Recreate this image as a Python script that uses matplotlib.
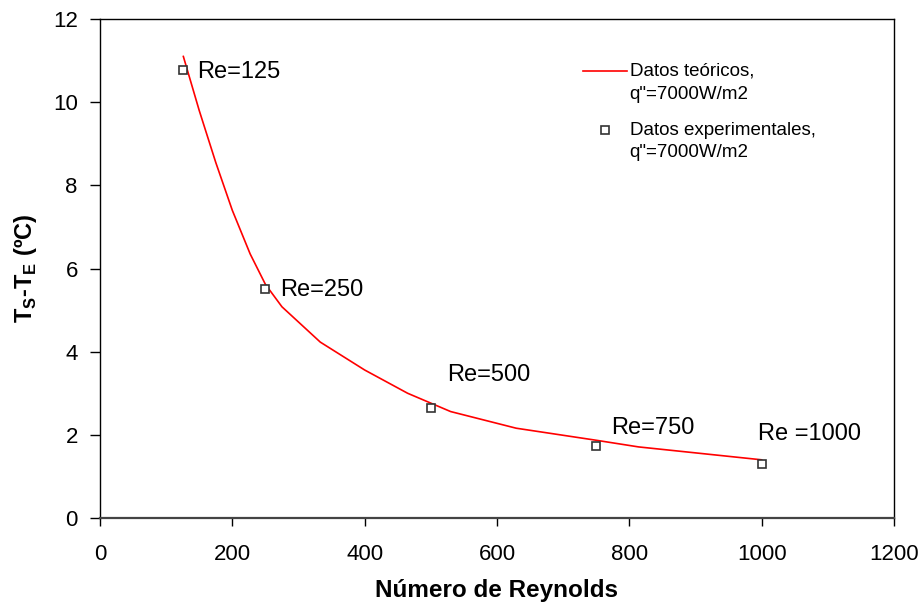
import matplotlib
matplotlib.use('Agg')
import matplotlib.pyplot as plt
import numpy as np
from matplotlib.legend_handler import HandlerLine2D

plt.rcParams['font.family'] = ['Liberation Sans', 'DejaVu Sans']
plt.rcParams['mathtext.fontset'] = 'custom'
plt.rcParams['mathtext.rm'] = 'Liberation Sans:bold'

# Datos teóricos (curva)
re_teo = [126, 150, 175, 200, 227, 250, 275, 333, 400, 465, 530, 629, 750, 814, 1000]
dt_teo = [11.1, 9.8, 8.55, 7.4, 6.35, 5.62, 5.08, 4.23, 3.56, 3.0, 2.56, 2.16, 1.87, 1.71, 1.40]

# Datos experimentales
re_exp = [125, 250, 500, 750, 1000]
dt_exp = [10.77, 5.50, 2.64, 1.73, 1.31]
etiquetas = ['Re=125', 'Re=250', 'Re=500', 'Re=750', 'Re =1000']
pos_etiq = [(147, 10.73), (273, 5.48), (524, 3.44), (773, 2.16), (995, 2.02)]


# el símbolo de la leyenda va a la altura de la primera línea del texto
class HandlerPrimeraLinea(HandlerLine2D):
    def create_artists(self, legend, orig_handle, xdescent, ydescent,
                       width, height, fontsize, trans):
        arts = super().create_artists(legend, orig_handle, xdescent, ydescent,
                                      width, height, fontsize, trans)
        for a in arts:
            a.set_ydata(np.asarray(a.get_ydata()) + 8.5)
        return arts


fig = plt.figure(figsize=(9.24, 6.02), dpi=100)
ax = fig.add_axes([0.1082, 0.1395, 0.8593, 0.8289])

l1, = ax.plot(re_teo, dt_teo, color='#ff0000', linewidth=1.2,
              label='Datos teóricos,\nq"=7000W/m2')
l2, = ax.plot(re_exp, dt_exp, linestyle='none', marker='s', markersize=6,
              markerfacecolor='white', markeredgecolor='#333333', markeredgewidth=1.2,
              label='Datos experimentales,\nq"=7000W/m2')

for txt, (x, y) in zip(etiquetas, pos_etiq):
    ax.text(x, y, txt, fontsize=17, ha='left', va='center')

ax.set_xlim(0, 1200)
ax.set_ylim(0, 12)
ax.set_xticks(range(0, 1201, 200))
ax.set_yticks(range(0, 13, 2))
ax.tick_params(axis='x', direction='out', length=6, width=1, labelsize=16, pad=13)
ax.tick_params(axis='y', direction='out', length=7, width=1, labelsize=16, pad=9)
for s in ax.spines.values():
    s.set_linewidth(1.0)
    s.set_color('black')
ax.spines['bottom'].set_color('#444444')
ax.spines['bottom'].set_linewidth(1.6)

ax.set_xlabel('Número de Reynolds', fontsize=17.5, fontweight='bold', labelpad=10)
ax.set_ylabel('T$_\\mathrm{S}$-T$_\\mathrm{E}$ (ºC)', fontsize=17, fontweight='bold', labelpad=10)

h = HandlerPrimeraLinea()
leg = ax.legend(loc='upper left', bbox_to_anchor=(0.608, 0.912), frameon=False,
                fontsize=13.5, handlelength=2.35, handletextpad=0.15,
                labelspacing=1.0, borderpad=0, borderaxespad=0,
                handler_map={l1: h, l2: HandlerPrimeraLinea(numpoints=1)})
for t in leg.get_texts():
    t.set_linespacing(1.45)

plt.savefig('out.png', dpi=100)
